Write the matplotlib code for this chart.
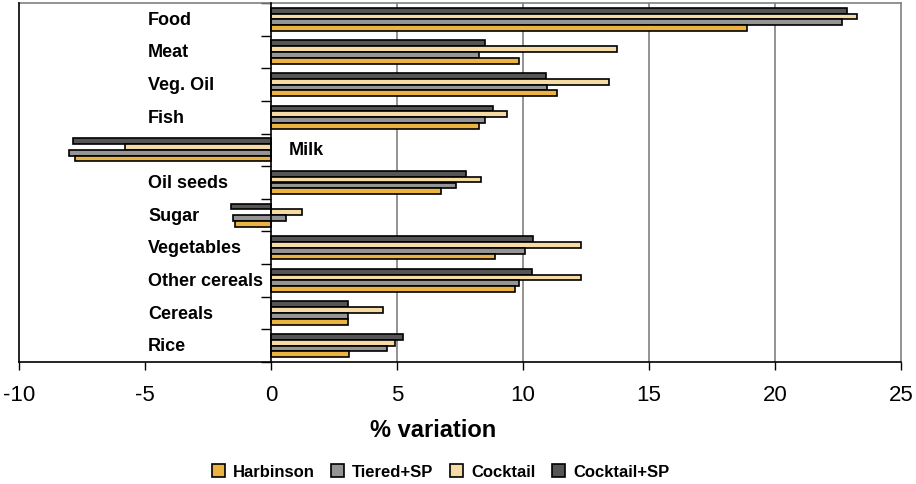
import numpy as np
import matplotlib.pyplot as plt
from matplotlib.patches import Patch

plt.rcParams['font.family'] = ['Liberation Sans', 'DejaVu Sans']

categories = ['Food', 'Meat', 'Veg. Oil', 'Fish', 'Milk', 'Oil seeds', 'Sugar',
              'Vegetables', 'Other cereals', 'Cereals', 'Rice']
harbinson = [18.9, 9.84, 11.33, 8.27, -7.78, 6.75, -1.43, 8.9, 9.69, 3.04, 3.11]
# Tiered+SP bar for Sugar straddles zero in the source chart
tiered_start = [0, 0, 0, 0, 0, 0, -1.5, 0, 0, 0, 0]
tiered_end = [22.65, 8.27, 10.97, 8.5, -8.0, 7.34, 0.58, 10.09, 9.85, 3.04, 4.62]
cocktail = [23.27, 13.73, 13.41, 9.37, -5.78, 8.33, 1.22, 12.3, 12.31, 4.46, 4.93]
cocktail_sp = [22.85, 8.5, 10.9, 8.82, -7.85, 7.74, -1.6, 10.41, 10.34, 3.04, 5.25]

series_names = ['Harbinson', 'Tiered+SP', 'Cocktail', 'Cocktail+SP']
colors = ['#EBB33F', '#959595', '#F6DCA4', '#555555']

fig = plt.figure(figsize=(9.16, 4.85), dpi=100)
ax = fig.add_axes([19 / 916, 122 / 485, 882 / 916, 359 / 485])

y = np.arange(len(categories))
h = 0.178
kw = dict(height=h, edgecolor='black', linewidth=1.2, zorder=3)
ax.barh(y - 1.5 * h, cocktail_sp, color=colors[3], **kw)
ax.barh(y - 0.5 * h, cocktail, color=colors[2], **kw)
t_start = np.array(tiered_start)
t_end = np.array(tiered_end)
ax.barh(y + 0.5 * h, t_end - t_start, left=t_start, color=colors[1], **kw)
ax.barh(y + 1.5 * h, harbinson, color=colors[0], **kw)

ax.set_xlim(-10, 25)
ax.set_ylim(len(categories) - 0.5, -0.5)

# gridlines on the positive side only
for gx in [5, 10, 15, 20]:
    ax.axvline(gx, color='#808080', linewidth=1.2, zorder=1)

ax.set_xticks([-10, -5, 0, 5, 10, 15, 20, 25])
ax.set_xticklabels(['-10', '-5', '0', '5', '10', '15', '20', '25'], fontsize=16)
ax.tick_params(axis='x', direction='out', length=6, width=1, pad=10)

# category axis sits at x = 0
ax.spines['left'].set_position(('data', 0))
ax.spines['left'].set_linewidth(1.2)
ax.spines['left'].set_zorder(4)
ax.set_yticks([])
ax.set_yticks(np.arange(len(categories) + 1) - 0.5, minor=True)
ax.tick_params(axis='y', which='minor', direction='out', length=7, width=1, labelleft=False)
ax.axvline(-10, color='black', linewidth=1.2, clip_on=False, zorder=4)
ax.spines['bottom'].set_linewidth(1.2)
ax.spines['top'].set_color('#808080')
ax.spines['top'].set_linewidth(1.2)
ax.spines['right'].set_color('#808080')
ax.spines['right'].set_linewidth(1.2)

for i, cat in enumerate(categories):
    if cat == 'Milk':
        ax.text(0.7, i, cat, fontsize=13, fontweight='bold', ha='left', va='center')
    else:
        ax.text(-4.88, i, cat, fontsize=13, fontweight='bold', ha='left', va='center')

ax.set_xlabel('% variation', fontsize=17, fontweight='bold')
ax.xaxis.set_label_coords(0.469, -0.155)

handles = [Patch(facecolor=c, edgecolor='black', linewidth=1.2) for c in colors]
fig.legend(handles, series_names, loc='center', bbox_to_anchor=(0.481, 0.025),
           ncol=4, frameon=False, prop={'weight': 'bold', 'size': 12},
           handlelength=0.75, handleheight=0.75, handletextpad=0.5, columnspacing=1.0)

fig.savefig('out.png', dpi=100)
